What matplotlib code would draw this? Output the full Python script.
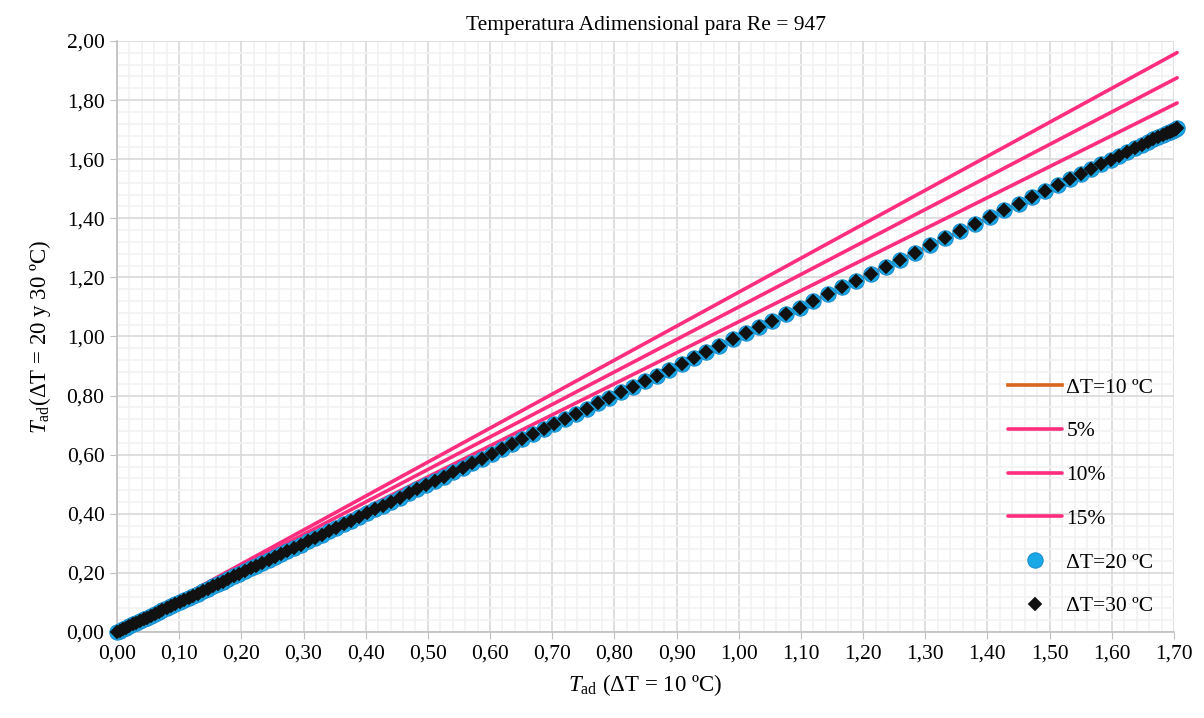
import matplotlib
matplotlib.use("Agg")
import matplotlib.pyplot as plt
from matplotlib.ticker import MultipleLocator, FuncFormatter

# ---- data ----
tad_10 = [0.000, 0.005, 0.010, 0.015, 0.020, 0.026, 0.031, 0.037, 0.043, 0.049,
          0.055, 0.061, 0.067, 0.073, 0.080, 0.087, 0.094, 0.101, 0.108, 0.115,
          0.122, 0.130, 0.138, 0.146, 0.154, 0.162, 0.170, 0.179, 0.188, 0.197,
          0.206, 0.215, 0.224, 0.234, 0.244, 0.254, 0.264, 0.274, 0.285, 0.296,
          0.307, 0.318, 0.329, 0.341, 0.353, 0.365, 0.377, 0.389, 0.402, 0.415,
          0.428, 0.441, 0.455, 0.469, 0.483, 0.497, 0.511, 0.526, 0.541, 0.556,
          0.571, 0.587, 0.603, 0.619, 0.635, 0.652, 0.669, 0.686, 0.703, 0.720,
          0.738, 0.756, 0.774, 0.792, 0.811, 0.830, 0.849, 0.868, 0.888, 0.908,
          0.928, 0.948, 0.969, 0.990, 1.011, 1.032, 1.054, 1.076, 1.098, 1.120,
          1.143, 1.166, 1.189, 1.212, 1.236, 1.260, 1.284, 1.308, 1.332, 1.356,
          1.380, 1.404, 1.427, 1.450, 1.472, 1.493, 1.513, 1.532, 1.550, 1.567,
          1.583, 1.598, 1.612, 1.625, 1.637, 1.648, 1.658, 1.667, 1.675, 1.682,
          1.688, 1.693, 1.697, 1.700, 1.703, 1.705]
tad_20 = list(tad_10)
tad_30 = list(tad_10)
pct_labels = ["5%", "10%", "15%"]
pct_values = [5, 10, 15]

plt.rcParams['font.family'] = ['Liberation Serif', 'DejaVu Serif']
plt.rcParams['mathtext.fontset'] = 'custom'
plt.rcParams['mathtext.rm'] = 'Liberation Serif'
plt.rcParams['mathtext.it'] = 'Liberation Serif:italic'

FS = 15.5

fig = plt.figure(figsize=(12.04, 7.18), dpi=100)
ax = fig.add_axes([117/1204, 1 - 632/718, (1174 - 117)/1204, (632 - 41)/718])

pink = '#FF2D7E'
ax.plot(tad_10, tad_10, color='#D9661E', lw=2.6, label='ΔT=10 ºC', zorder=3,
        clip_on=False)
for lab, p in zip(pct_labels, pct_values):
    ax.plot(tad_10, [v * (1 + p / 100) for v in tad_10], color=pink, lw=2.6,
            label=lab, zorder=3, solid_capstyle='round', clip_on=False)
ax.plot(tad_10, tad_20, linestyle='none', marker='o', ms=11, mfc='#1AA8E6',
        mec='#1A8FD0', mew=0.8, label='ΔT=20 ºC', zorder=4, clip_on=False)
ax.plot(tad_10, tad_30, linestyle='none', marker='D', ms=7.5, mfc='#111111',
        mec='#111111', mew=0.3, label='ΔT=30 ºC', zorder=5, clip_on=False)

ax.set_xlim(0, 1.70)
ax.set_ylim(0, 2.00)
ax.xaxis.set_major_locator(MultipleLocator(0.10))
ax.yaxis.set_major_locator(MultipleLocator(0.20))
ax.xaxis.set_minor_locator(MultipleLocator(0.02))
ax.yaxis.set_minor_locator(MultipleLocator(0.04))
fmt = FuncFormatter(lambda v, pos: f"{v:.2f}".replace('.', ','))
ax.xaxis.set_major_formatter(fmt)
ax.yaxis.set_major_formatter(fmt)
ax.grid(which='major', color='#D9D9D9', lw=1.2, zorder=0)
ax.grid(which='minor', color='#F2F2F2', lw=1.2, zorder=0)
ax.set_axisbelow(True)
for s in ['top', 'right']:
    ax.spines[s].set_visible(False)
for s in ['left', 'bottom']:
    ax.spines[s].set_color('#BFBFBF')
    ax.spines[s].set_linewidth(1.2)
ax.tick_params(which='major', length=5, color='#BFBFBF', labelsize=FS, pad=4)
ax.tick_params(which='minor', length=0)

ax.set_title('Temperatura Adimensional para Re = 947', fontsize=FS, pad=8)
ax.set_xlabel(r'$T_{\rm ad}$ (ΔT = 10 ºC)', fontsize=FS + 1, labelpad=6)
ax.set_ylabel(r'$T_{\rm ad}$(ΔT = 20 y 30 ºC)', fontsize=FS + 1, labelpad=10)

leg = ax.legend(loc='upper left', bbox_to_anchor=(0.835, 0.445), frameon=False,
                fontsize=FS, labelspacing=1.1, handlelength=2.5,
                handletextpad=0.2, borderaxespad=0)

fig.savefig('out.png', dpi=100)
